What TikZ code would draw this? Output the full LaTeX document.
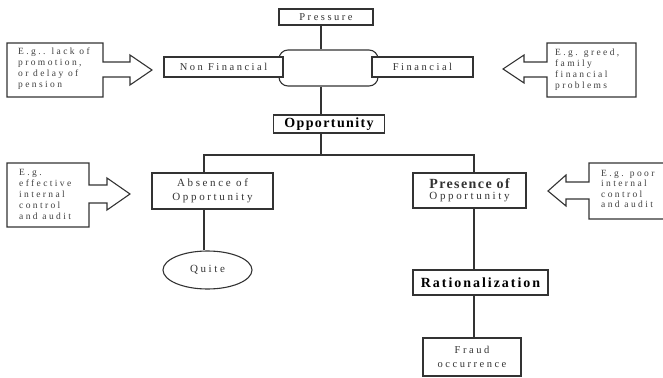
\documentclass[tikz,border=0pt]{standalone}
\usepackage{fontspec}
\setmainfont{Liberation Serif}
\newfontfamily\sfa[LetterSpace=24]{Liberation Serif}
\newfontfamily\sfn[LetterSpace=25]{Liberation Serif}
\newfontfamily\sfb[LetterSpace=10]{Liberation Serif}
\newfontfamily\sfr[LetterSpace=14]{Liberation Serif}
\usetikzlibrary{shapes.geometric,calc}
\tikzset{
  ln/.style={draw=black!80, line width=1.1pt},
  box/.style={ln, fill=white, rectangle, inner sep=0pt, align=center, text=black!80},
  reg/.style={font=\sfa\fontsize{10.5}{12}\selectfont},
  big/.style={font=\sfb\bfseries\fontsize{14}{16}\selectfont, text=black},
  note/.style={inner sep=0pt, align=left, anchor=west, text=black!75, font=\sfn\fontsize{9.5}{11}\selectfont},
}
\begin{document}
\begin{tikzpicture}[x=1pt,y=-1pt]
\useasboundingbox (0,0) rectangle (663,377);
% top section
\node[box, reg, minimum width=94pt, minimum height=16pt] (pressure) at (326,17) {Pressure};
\node[ln, rectangle, rounded corners=9pt, minimum width=99pt, minimum height=36pt] (mid) at (328.5,68) {};
\node[box, reg, minimum width=119pt, minimum height=20pt] (nonfin) at (223.5,67) {Non Financial};
\node[box, reg, minimum width=101pt, minimum height=20pt] (fin) at (422.5,67) {Financial};
\node[box, big, minimum width=111pt, minimum height=18pt] (opp) at (329,124) {Opportunity};
\node[box, font=\sfa\fontsize{11}{13.5}\selectfont, minimum width=121pt, minimum height=36pt] (absence) at (212.5,191) {Absence of\\Opportunity};
\node[box, minimum width=113pt, minimum height=35pt] (presence) at (469.5,190.5) {{\sfb\bfseries\fontsize{14}{15}\selectfont Presence of}\\[-1pt]{\sfa\fontsize{11}{13}\selectfont Opportunity}};
\node[box, ellipse, font=\sfa\fontsize{11}{12}\selectfont, minimum width=89pt, minimum height=38pt] (quite) at (207.5,270) {Quite};
\node[box, font=\sfr\bfseries\fontsize{14}{16}\selectfont, text=black, minimum width=135pt, minimum height=25pt] (rational) at (480.5,282.5) {Rationalization};
\node[box, font=\sfa\fontsize{10.5}{13.5}\selectfont, minimum width=98pt, minimum height=38pt] (fraud) at (472,357) {Fraud\\occurrence};
% connector coordinates
\coordinate (cx) at (321,0);
\coordinate (ax) at (204,155);
\coordinate (px) at (474,155);
\draw[ln] (pressure.south -| cx) -- (mid.north -| cx);
\draw[ln] (mid.south -| cx) -- (opp.north -| cx);
\draw[ln] (opp.south -| cx) -- (cx |- ax);
\draw[ln] (absence.north -| ax) -- (ax) -- (px) -- (presence.north -| px);
\draw[ln] (absence.south -| ax) -- (quite.north -| ax);
\draw[ln] (presence.south -| px) -- (rational.north -| px);
\draw[ln] (rational.south -| px) -- (fraud.north -| px);
% callouts
\draw[ln, line join=miter] (7,43) -- (103,43) -- (103,62) -- (130,62) -- (130,55) -- (152,70) -- (130,85) -- (130,77) -- (103,77) -- (103,97) -- (7,97) -- cycle;
\node[note] (n1) at (18,69) {E.g.. lack of\\promotion,\\or delay of\\pension};
\draw[ln, line join=miter] (636,43) -- (547,43) -- (547,62) -- (524,62) -- (524,55) -- (503,69) -- (524,83) -- (524,77) -- (547,77) -- (547,97) -- (636,97) -- cycle;
\node[note] (n2) at (555,70) {E.g. greed,\\family\\financial\\problems};
\draw[ln, line join=miter] (7,163) -- (89,163) -- (89,185) -- (107,185) -- (107,178) -- (130,194) -- (107,210) -- (107,203) -- (89,203) -- (89,227) -- (7,227) -- cycle;
\node[note] (n3) at (19,194) {E.g.\\effective\\internal\\control\\and audit};
\draw[ln, line join=miter] (666,163) -- (589,163) -- (589,182) -- (566,182) -- (566,175) -- (548,191) -- (566,206) -- (566,199) -- (589,199) -- (589,219) -- (666,219);
\node[note, font=\sfn\fontsize{9.5}{10.5}\selectfont] (n4) at (601,189) {E.g. poor\\internal\\control\\and audit};
\end{tikzpicture}
\end{document}
